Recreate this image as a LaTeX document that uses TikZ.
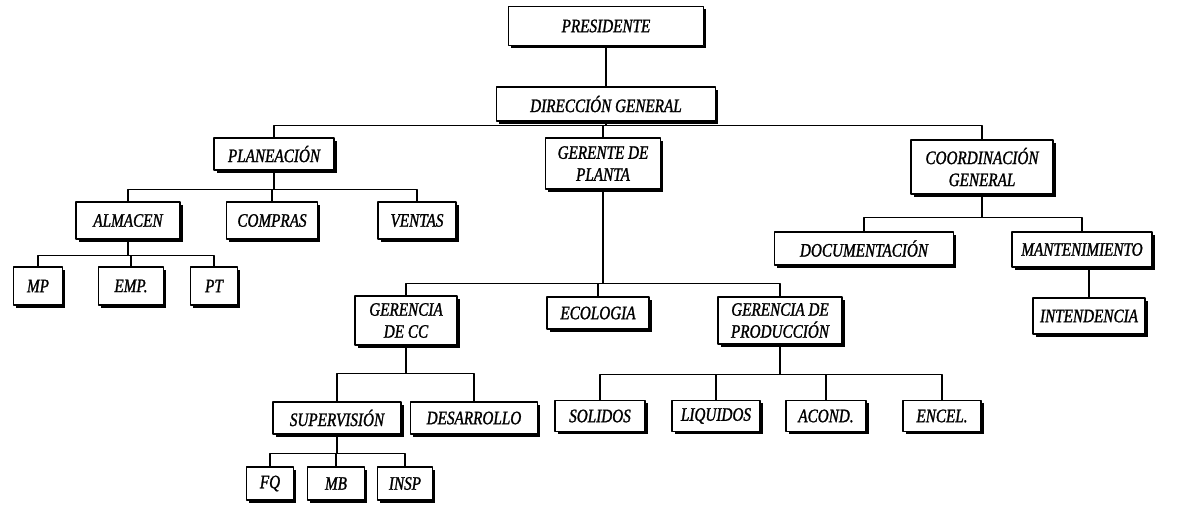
\documentclass[tikz,border=0pt]{standalone}
\usepackage{fontspec}
\newfontfamily\orgfont{Liberation Serif}[FakeStretch=0.8, FakeBold=1.3]
\usetikzlibrary{shadows}
\begin{document}
\begin{tikzpicture}[x=1pt, y=-1pt, line join=round, line cap=round, font=\orgfont\itshape\fontsize{19}{22}\selectfont]
	\useasboundingbox (0,0) rectangle (1179,509);
	\tikzset{caja/.style={draw, line width=1.4pt, fill=white, align=center, inner sep=2pt,
			drop shadow={shadow xshift=2.8pt, shadow yshift=-2.8pt, fill=black, opacity=1}},
		linea/.style={line width=1.4pt}}
	% direccion
	\node[caja, minimum width=195pt, minimum height=39pt] (pres) at (606,26) {PRESIDENTE};
	\node[caja, minimum width=219pt, minimum height=34pt] (dg) at (606,104) {DIRECCIÓN GENERAL};
	\node[caja, minimum width=120pt, minimum height=32pt] (plan) at (274,154) {PLANEACIÓN};
	\node[caja, minimum width=115pt, minimum height=51pt] (gp) at (603,163.5) {GERENTE DE\\PLANTA};
	\node[caja, minimum width=142pt, minimum height=54pt] (coord) at (982,167) {COORDINACIÓN\\GENERAL};
	% planeacion
	\node[caja, minimum width=104pt, minimum height=37pt] (alm) at (128,220.5) {ALMACEN};
	\node[caja, minimum width=91pt, minimum height=37pt] (comp) at (272,220.5) {COMPRAS};
	\node[caja, minimum width=78pt, minimum height=37pt] (vent) at (417,220.5) {VENTAS};
	\node[caja, minimum width=49pt, minimum height=38pt] (matprima) at (38,286) {MP};
	\node[caja, minimum width=65pt, minimum height=38pt] (empaque) at (131,286) {EMP.};
	\node[caja, minimum width=47pt, minimum height=38pt] (prodterm) at (214,286) {PT};
	% coordinacion
	\node[caja, minimum width=179pt, minimum height=33pt] (doc) at (864,248.5) {DOCUMENTACIÓN};
	\node[caja, minimum width=140pt, minimum height=35pt] (mant) at (1082,249.5) {MANTENIMIENTO};
	\node[caja, minimum width=112pt, minimum height=36pt] (intend) at (1089,316) {INTENDENCIA};
	% planta
	\node[caja, minimum width=102pt, minimum height=49pt] (gcc) at (406,320.5) {GERENCIA\\DE CC};
	\node[caja, minimum width=102pt, minimum height=32pt] (eco) at (598,313) {ECOLOGIA};
	\node[caja, minimum width=124pt, minimum height=47pt] (gdp) at (780,320.5) {GERENCIA DE\\PRODUCCIÓN};
	\node[caja, minimum width=128pt, minimum height=32pt] (sup) at (337,418) {SUPERVISIÓN};
	\node[caja, minimum width=127pt, minimum height=32pt] (des) at (474,418) {DESARROLLO};
	\node[caja, minimum width=47pt, minimum height=33pt] (fq) at (270,483.5) {FQ};
	\node[caja, minimum width=57pt, minimum height=33pt] (mb) at (336,483.5) {MB};
	\node[caja, minimum width=55pt, minimum height=33pt] (insp) at (405,483.5) {INSP};
	\node[caja, minimum width=90pt, minimum height=31pt] (sol) at (600,416) {SOLIDOS};
	\node[caja, minimum width=88pt, minimum height=31pt] (liq) at (716,416) {LIQUIDOS};
	\node[caja, minimum width=80pt, minimum height=31pt] (acond) at (826,416) {ACOND.};
	\node[caja, minimum width=78pt, minimum height=31pt] (encel) at (942,416) {ENCEL.};
	% lineas
	\draw[linea] (pres) -- (dg);
	\foreach \h in {plan,gp,coord} \draw[linea] (dg.south) -- ++(0,4) -| (\h.north);
	\foreach \h in {alm,comp,vent} \draw[linea] (plan.south) -- ++(0,19) -| (\h.north);
	\foreach \h in {matprima,empaque,prodterm} \draw[linea] (alm.south) -- ++(0,16) -| (\h.north);
	\foreach \h in {doc,mant} \draw[linea] (coord.south) -- ++(0,23) -| (\h.north);
	\draw[linea] (intend.north) -- (intend.north |- mant.south);
	\foreach \h in {gcc,eco,gdp} \draw[linea] (gp.south) -- ++(0,94) -| (\h.north);
	\foreach \h in {sup,des} \draw[linea] (gcc.south) -- ++(0,28) -| (\h.north);
	\foreach \h in {fq,mb,insp} \draw[linea] (sup.south) -- ++(0,19) -| (\h.north);
	\foreach \h in {sol,liq,acond,encel} \draw[linea] (gdp.south) -- ++(0,30) -| (\h.north);
\end{tikzpicture}
\end{document}
